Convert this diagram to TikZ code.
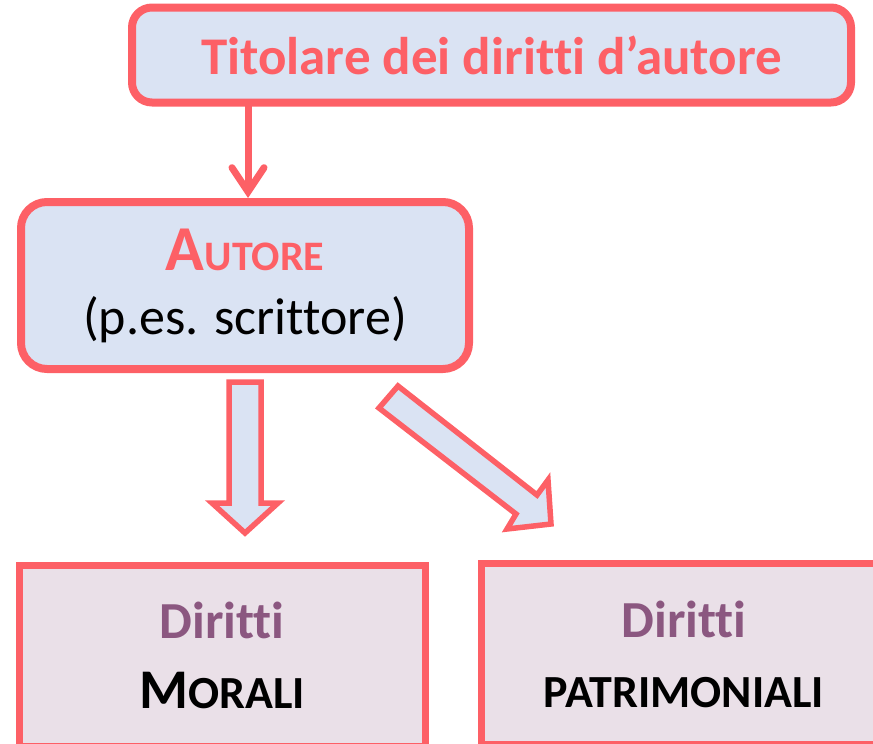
\documentclass[tikz,border=0pt]{standalone}
\usepackage{fontspec}
\setmainfont{Carlito}[Ligatures={NoCommon}]
\usetikzlibrary{arrows.meta}
\definecolor{rosso}{RGB}{253,96,102}
\definecolor{azzurro}{RGB}{218,227,243}
\definecolor{rosa}{RGB}{234,224,232}
\definecolor{viola}{RGB}{139,87,128}

\begin{document}
\begin{tikzpicture}[x=1pt,y=-1pt,
  tondo/.style={draw=rosso, fill=azzurro, line width=8pt, rounded corners=#1},
  quadro/.style={draw=rosso, fill=rosa, line width=7pt, minimum width=406pt, minimum height=181pt, align=center, font=\bfseries\fontsize{52}{70}\selectfont},
  freccia/.style={draw=rosso, fill=azzurro, line width=5.5pt, miter limit=10}]
\useasboundingbox (0,0) rectangle (873,744);
\clip (0,0) rectangle (873,744);
\node [tondo=20pt, minimum width=719pt, minimum height=95pt, text=rosso, font=\bfseries\fontsize{53}{60}\selectfont] (titolare) at (491.5,55) {Titolare dei diritti d’autore};
\node [tondo=26pt, minimum width=448pt, minimum height=167pt, align=center, font=\fontsize{52}{64}\selectfont] (autore) at (245,285.5)
	{{\color{rosso}\bfseries\fontsize{64}{64}\selectfont A\fontsize{42}{64}\selectfont UTORE}\\(p.es. scrittore)};
\draw [rosso, line width=7pt, line cap=round, -{Straight Barb[length=24pt,width=32pt,line cap=round]}] ([xshift=3pt]autore.north |- titolare.south) -- ([xshift=3pt]autore.north);
% frecce larghe
\draw [freccia] (229,382) -- (261,382) -- (261,503) -- (278,503) -- (245,533) -- (212,503) -- (229,503) -- cycle;
\draw [freccia] (398,386) -- (379,408) -- (516,514) -- (507,529) -- (551,524) -- (548,480) -- (537,495) -- cycle;
% diritti
\node [quadro] (morali) at (222,655.5) {{\color{viola}Diritti}\\{\fontsize{56}{70}\selectfont M\fontsize{46}{70}\selectfont ORALI}};
\node [quadro] (patrimoniali) at (684,654) {{\color{viola}Diritti}\\{\fontsize{46}{70}\selectfont PATRIMONIALI}};
\end{tikzpicture}
\end{document}
